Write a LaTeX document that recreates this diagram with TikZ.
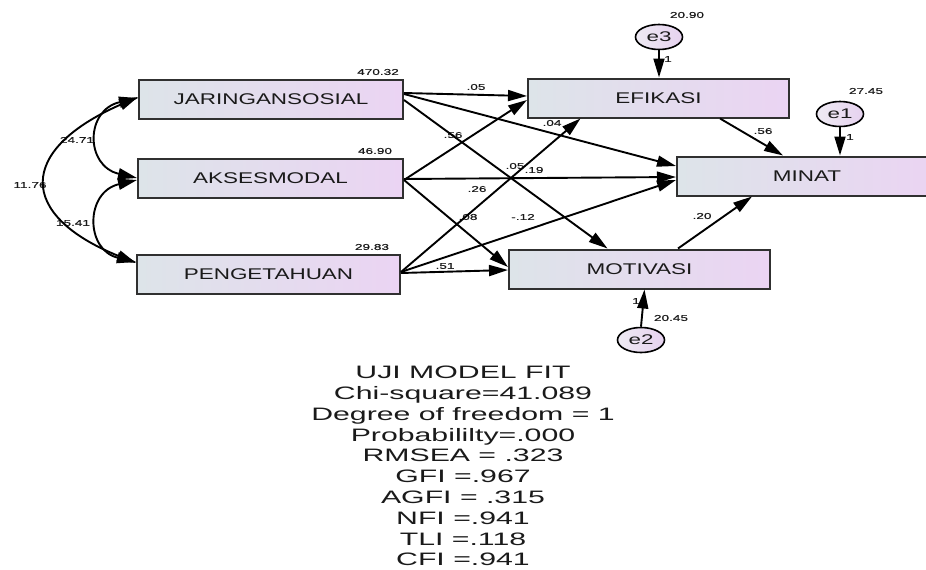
\documentclass[tikz,border=0pt]{standalone}
\usepackage{fontspec}
\usetikzlibrary{arrows.meta,shapes.geometric}
\setmainfont{Liberation Sans}
\newfontfamily\lblfont[FakeStretch=1.45]{Liberation Sans}
\newfontfamily\numfont[FakeStretch=1.6,FakeBold=0.6]{Liberation Sans}
\newfontfamily\errfont[FakeStretch=1.6]{Liberation Sans}
\newfontfamily\fitfont[FakeStretch=1.68]{Liberation Sans}
\definecolor{boxleft}{HTML}{DDE4E9}
\definecolor{boxright}{HTML}{EBD4F3}
\definecolor{ovleft}{HTML}{EEEAF3}
\definecolor{ovright}{HTML}{E6D2EF}
\definecolor{rim}{HTML}{303030}
\definecolor{ink}{HTML}{1A1A1A}
\tikzset{
  var/.style={draw=rim, line width=2pt, left color=boxleft, right color=boxright,
    minimum height=39pt, inner sep=0pt, text=ink,
    font=\lblfont\fontsize{15.5}{16}\selectfont},
  err/.style={ellipse, draw=black, line width=1.6pt, left color=ovleft, right color=ovright,
    minimum width=47pt, minimum height=25pt, inner sep=0pt, text=ink,
    font=\errfont\fontsize{14}{15}\selectfont},
  num/.style={inner sep=0pt, text=ink, font=\numfont\fontsize{8.5}{9}\selectfont},
  path/.style={draw=black, line width=1.9pt, -{Triangle[length=19pt,width=11pt]}},
  cov/.style={draw=black, line width=1.9pt,
    {Triangle[length=19pt,width=11pt]}-{Triangle[length=19pt,width=11pt]}}
}
\begin{document}
\begin{tikzpicture}[x=1pt,y=-1pt]
\useasboundingbox (0,0) rectangle (926,570);
\clip (0,0) rectangle (926,570);

% observed variables
\node[var, minimum width=264pt] (JS) at (271,99)   {JARINGANSOSIAL};
\node[var, minimum width=265pt] (AK) at (270.5,178) {AKSESMODAL};
\node[var, minimum width=263pt] (PE) at (268.5,274) {PENGETAHUAN};
\node[var, minimum width=261pt] (EF) at (658.5,98)  {EFIKASI};
\node[var, minimum width=260pt] (MI) at (807,176)   {MINAT};
\node[var, minimum width=261pt] (MO) at (639.5,269) {MOTIVASI};

% error terms
\node[err] (e3) at (659,37)  {e3};
\node[err] (e1) at (840,114) {e1};
\node[err] (e2) at (641,340) {e2};

% variances
\node[num] (vJS) at (378,72)  {470.32};
\node[num] (vAK) at (375,151) {46.90};
\node[num] (vPE) at (372,247) {29.83};
\node[num] (v3)  at (687,15)  {20.90};
\node[num] (v1)  at (866,91)  {27.45};
\node[num] (v2)  at (671,318) {20.45};

% covariances
\node[num] (c12) at (77,140) {24.71};
\node[num] (c13) at (30,185) {11.76};
\node[num] (c23) at (73,223) {15.41};

% path coefficients
\node[num] (p1)  at (476,87)  {.05};
\node[num] (p2)  at (453,135) {.56};
\node[num] (p3)  at (552,123) {.04};
\node[num] (p4)  at (515,166) {.05};
\node[num] (p5)  at (534,170) {.19};
\node[num] (p6)  at (477,189) {.26};
\node[num] (p7)  at (468,217) {.08};
\node[num] (p8)  at (523,217) {-.12};
\node[num] (p9)  at (445,266) {.51};
\node[num] (p10) at (763,131) {.56};
\node[num] (p11) at (702,216) {.20};
\node[num] (w3)  at (668,59)  {1};
\node[num] (w1)  at (850,137) {1};
\node[num] (w2)  at (636,301) {1};

% regression paths
\draw[path] ([yshift=6pt]JS.east) -- ([yshift=2pt]EF.west);
\draw[path] ([yshift=5pt]JS.east) -- ([yshift=10pt]MI.west);
\draw[path] ([yshift=-1pt]JS.east) -- ([xshift=-32pt]MO.north);
\draw[path] ([yshift=-2pt]AK.east) -- ([yshift=-2pt]EF.west);
\draw[path] ([yshift=-1pt]AK.east) -- ([yshift=-1pt]MI.west);
\draw[path] ([yshift=-2pt]AK.east) -- ([yshift=2pt]MO.west);
\draw[path] ([yshift=2pt]PE.east) -- ([xshift=-78pt]EF.south);
\draw[path] ([yshift=2pt]PE.east) -- ([yshift=-4pt]MI.west);
\draw[path] ([yshift=1pt]PE.east) -- ([yshift=-1pt]MO.west);
\draw[path] ([xshift=61.5pt]EF.south) -- ([xshift=-24pt]MI.north);
\draw[path] ([xshift=38.5pt]MO.north) -- ([xshift=-55pt]MI.south);

% error paths
\draw[path] (e3.south) -- (e3.south |- EF.north);
\draw[path] (e1.south) -- (e1.south |- MI.north);
\draw[path] (e2.north) -- ([xshift=5pt]MO.south);

% covariance arcs
\draw[cov] ([yshift=1pt]JS.west) .. controls (85,110) and (85,166) .. (AK.west);
\draw[cov] ([yshift=-2pt]AK.west) .. controls (85,192) and (85,250) .. ([yshift=12pt]PE.west);
\draw[cov] ([yshift=2pt]JS.west) .. controls (17,150) and (17,215) .. ([yshift=11pt]PE.west);

% model fit summary
\node[align=center, text=ink, font=\fitfont\fontsize{18}{20.8}\selectfont] (fit) at (463,466)
  {UJI MODEL FIT\\
   Chi-square=41.089\\
   Degree of freedom = 1\\
   Probabililty=.000\\
   RMSEA = .323\\
   GFI =.967\\
   AGFI = .315\\
   NFI =.941\\
   TLI =.118\\
   CFI =.941};
\end{tikzpicture}
\end{document}
